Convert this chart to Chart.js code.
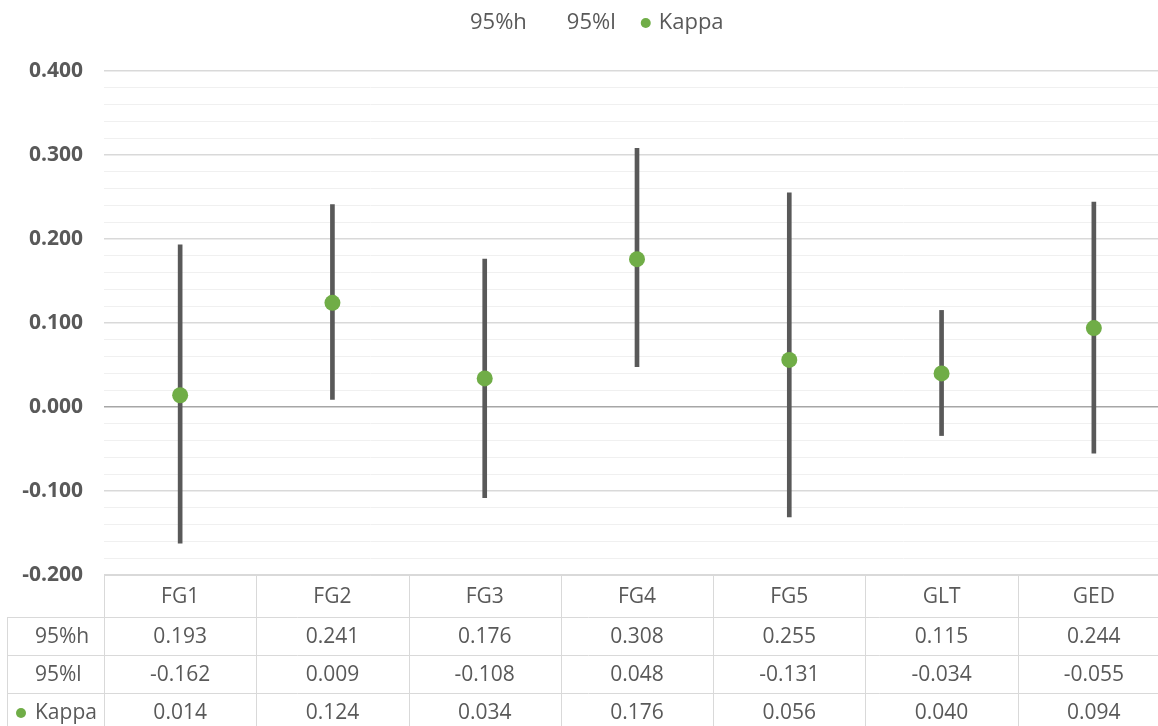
<!DOCTYPE html>
<html>
<head>
<meta charset="utf-8">
<script src="https://cdn.jsdelivr.net/npm/chart.js@4.4.1/dist/chart.umd.min.js"></script>
<style>
  body { margin: 0; background: #fff; }
  #wrap { width: 1158px; height: 726px; overflow: hidden; }
</style>
</head>
<body>
<div id="wrap"><canvas id="chart" width="1178" height="735"></canvas></div>
<script>
// values
var categories = ['FG1', 'FG2', 'FG3', 'FG4', 'FG5', 'GLT', 'GED'];
var high95 = [0.193, 0.241, 0.176, 0.308, 0.255, 0.115, 0.244];
var low95 = [-0.162, 0.009, -0.108, 0.048, -0.131, -0.034, -0.055];
var kappa = [0.014, 0.124, 0.034, 0.176, 0.056, 0.040, 0.094];
var rowNames = ['95%h', '95%l', 'Kappa'];

var green = '#70ad47';
var grey = '#595959';
var fontFam = '"Open Sans", "Noto Sans", sans-serif';

var ranges = low95.map(function (l, i) { return [l, high95[i]]; });

// legend on top + data table below the plot
var extras = {
  id: 'extras',
  afterDraw: function (chart) {
    var ctx = chart.ctx;
    var xs = chart.scales.x;
    var area = chart.chartArea;
    ctx.save();

    // legend
    ctx.font = '22px ' + fontFam;
    ctx.fillStyle = grey;
    ctx.textBaseline = 'middle';
    ctx.textAlign = 'left';
    var lx = 470, ly = 23;
    ctx.fillText(rowNames[0], lx, ly);
    lx += ctx.measureText(rowNames[0]).width + 40;
    ctx.fillText(rowNames[1], lx, ly);
    lx += ctx.measureText(rowNames[1]).width + 30;
    ctx.beginPath();
    ctx.arc(lx, ly, 5, 0, Math.PI * 2);
    ctx.fillStyle = green;
    ctx.fill();
    ctx.fillStyle = grey;
    ctx.fillText(rowNames[2], lx + 13, ly);

    // table
    var step = xs.getPixelForValue(1) - xs.getPixelForValue(0);
    var top = area.bottom;
    var headH = 42, rowH = 38;
    var tableLeft = 7;
    var right = area.right;
    ctx.strokeStyle = '#d9d9d9';
    ctx.lineWidth = 1;
    ctx.beginPath();
    ctx.moveTo(area.left, top + 0.5); ctx.lineTo(right, top + 0.5);
    for (var r = 0; r <= 3; r++) {
      var yy = Math.round(top + headH + r * rowH) + 0.5;
      ctx.moveTo(tableLeft, yy); ctx.lineTo(right, yy);
    }
    var bottom = top + headH + 3 * rowH;
    ctx.moveTo(tableLeft + 0.5, top + headH); ctx.lineTo(tableLeft + 0.5, bottom);
    for (var i = 0; i <= categories.length; i++) {
      var vx = Math.round(xs.getPixelForValue(i) - step / 2) + 0.5;
      ctx.moveTo(vx, top); ctx.lineTo(vx, bottom);
    }
    ctx.stroke();

    ctx.font = '21px ' + fontFam;
    ctx.fillStyle = grey;
    ctx.textAlign = 'center';
    var rows = [high95, low95, kappa];
    categories.forEach(function (c, i) {
      var cx = xs.getPixelForValue(i);
      ctx.fillText(c, cx, top + headH / 2 + 1);
      rows.forEach(function (arr, r) {
        ctx.fillText(arr[i].toFixed(3), cx, top + headH + r * rowH + rowH / 2 + 1);
      });
    });
    ctx.textAlign = 'left';
    rowNames.forEach(function (n, r) {
      ctx.fillText(n, 35, top + headH + r * rowH + rowH / 2 + 1);
    });
    ctx.beginPath();
    ctx.arc(21, top + headH + 2 * rowH + rowH / 2 + 1, 5, 0, Math.PI * 2);
    ctx.fillStyle = green;
    ctx.fill();
    ctx.restore();
  }
};

var ctx = document.getElementById('chart').getContext('2d');
var chart = new Chart(ctx, {
  type: 'bar',
  data: {
    labels: categories,
    datasets: [
      {
        type: 'line',
        label: 'Kappa',
        data: kappa,
        showLine: false,
        pointRadius: 8,
        pointBackgroundColor: green,
        pointBorderWidth: 0,
        order: 0
      },
      {
        label: 'range',
        data: ranges,
        backgroundColor: grey,
        borderWidth: 0,
        barThickness: 4,
        order: 1
      }
    ]
  },
  options: {
    responsive: false,
    animation: false,
    events: [],
    layout: { padding: { top: 71, right: 3, bottom: 160, left: 0 } },
    plugins: {
      legend: { display: false },
      tooltip: { enabled: false }
    },
    scales: {
      x: { display: false },
      y: {
        min: -0.2,
        max: 0.4,
        border: { display: false },
        grid: {
          drawTicks: false,
          color: function (c) {
            var k = Math.round(c.tick.value * 50);
            if (k === 0) return '#a6a6a6';
            return k % 5 === 0 ? '#d9d9d9' : '#f0f0f0';
          },
          lineWidth: function (c) {
            var k = Math.round(c.tick.value * 50);
            return k % 5 === 0 ? 1.5 : 1;
          }
        },
        ticks: {
          stepSize: 0.02,
          maxTicksLimit: 100,
          autoSkip: false,
          padding: 21,
          color: grey,
          font: { family: fontFam, size: 21, weight: 'bold' },
          callback: function (v) {
            var k = Math.round(v * 50);
            return k % 5 === 0 ? (k / 50).toFixed(3) : '';
          }
        },
        afterFit: function (scale) { scale.width = 104; }
      }
    }
  },
  plugins: [extras]
});
</script>
</body>
</html>
